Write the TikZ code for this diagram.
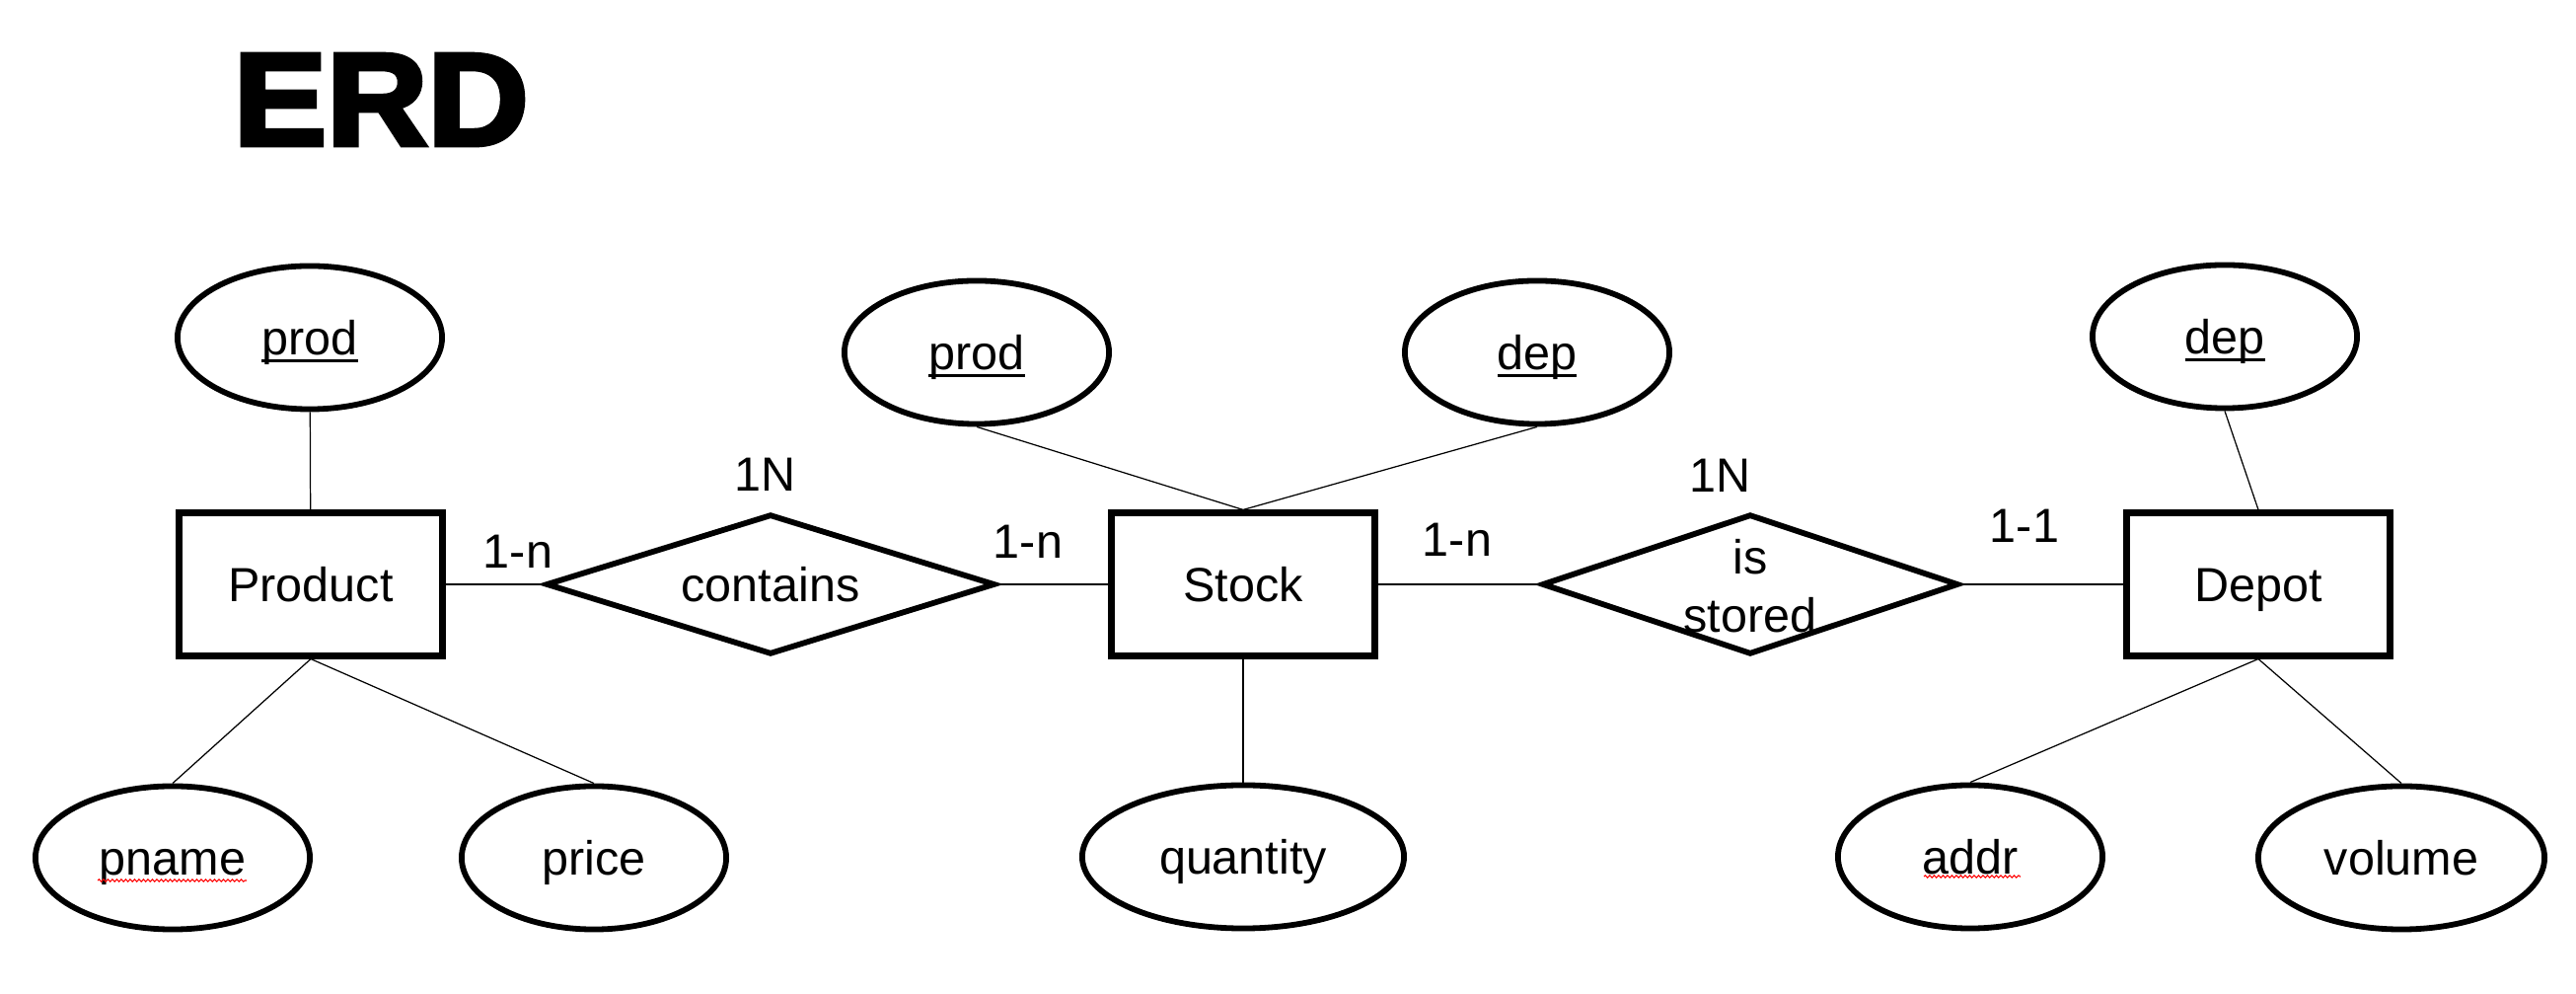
\documentclass[tikz,border=0pt]{standalone}
\usepackage{fontspec}
\setmainfont{Liberation Sans}
\newfontfamily\erdfont{Liberation Sans Bold}[FakeBold=3.5]
\usetikzlibrary{shapes.geometric,decorations.pathmorphing}
\newcommand\keyul[1]{\setbox0=\hbox{#1}\rlap{\rule[-0.15em]{\wd0}{0.055em}}\box0}
\begin{document}
\begin{tikzpicture}[x=0.01cm,y=-0.01cm,
  every node/.style={font=\fontsize{13.8}{16.8}\selectfont, inner sep=0pt},
  txt/.style={text height=9.9pt, text depth=0pt},
  entity/.style={txt, draw, line width=2pt, minimum width=2.66cm, minimum height=1.44cm},
  attr/.style={txt, draw, ellipse, line width=1.65pt, minimum width=2.68cm, minimum height=1.45cm},
  rel/.style={txt, draw, diamond, aspect=3, line width=1.65pt, minimum width=4.55cm, minimum height=1.42cm},
  card/.style={txt},
  conn/.style={line width=0.35pt},
  squig/.style={red, line width=0.3pt, decorate, decoration={snake, amplitude=0.012cm, segment length=0.045cm}}
]
\useasboundingbox (0,0) rectangle (2611,1007);

% title
\node[font=\erdfont\fontsize{38}{40}\selectfont, anchor=base west, xscale=1.06] (title) at (236,147) {ERD};

% entities
\node[entity] (product) at (315,592) {Product};
\node[entity] (stock) at (1260,592) {Stock};
\node[entity] (depot) at (2289,592) {Depot};

% relationships
\node[rel] (contains) at (781,592) {contains};
\node[rel, minimum width=4.22cm] (stored) at (1774,592) {};
\node[align=center, anchor=north] (storedtxt) at (1774,546) {is\\stored};

% attributes
\node[attr] (pprod) at (314,342) {\keyul{prod}};
\node[attr, minimum width=2.78cm] (pname) at (175,869) {pname};
\node[attr] (price) at (602,869) {price};
\node[attr] (sprod) at (990,357) {\keyul{prod}};
\node[attr] (sdep) at (1558,357) {\keyul{dep}};
\node[attr, minimum width=3.26cm] (quantity) at (1260,868) {quantity};
\node[attr] (ddep) at (2255,341) {\keyul{dep}};
\node[attr] (addr) at (1997,868) {addr};
\node[attr, minimum width=2.9cm] (volume) at (2434,869) {volume};

% cardinalities
\node[card] (c1) at (525,558) {1-n};
\node[card] (c2) at (1042,548) {1-n};
\node[card] (c3) at (1477,546) {1-n};
\node[card] (c4) at (2052,532) {1-1};
\node[card] (n1) at (776,480) {1N};
\node[card] (n2) at (1744,481) {1N};

% connectors
\draw[conn] (pprod) -- (product);
\draw[conn] (product.south) -- (pname.north);
\draw[conn] (product.south) -- (price.north);
\draw[conn] (product) -- (contains);
\draw[conn] (contains) -- (stock);
\draw[conn] (sprod.south) -- (stock.north);
\draw[conn] (sdep.south) -- (stock.north);
\draw[conn] (stock) -- (quantity);
\draw[conn] (stock) -- (stored);
\draw[conn] (stored) -- (depot);
\draw[conn] (ddep.south) -- (depot.north);
\draw[conn] (depot.south) -- (addr.north);
\draw[conn] (depot.south) -- (volume.north);

% spell-check squiggles
\draw[squig] ([shift={(-76,23)}]pname.center) -- ([shift={(75,23)}]pname.center);
\draw[squig] ([shift={(-47,20)}]addr.center) -- ([shift={(51,20)}]addr.center);
\end{tikzpicture}
\end{document}
